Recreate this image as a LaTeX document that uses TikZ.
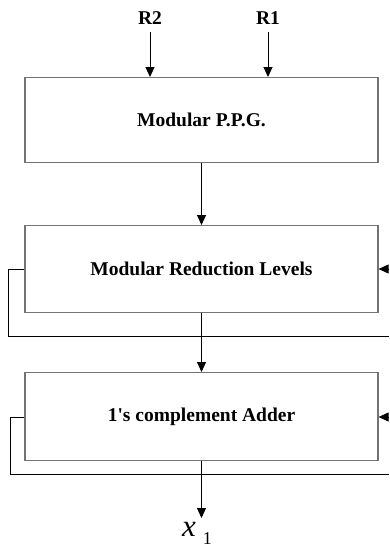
\documentclass[tikz,border=0pt]{standalone}
\usepackage{fontspec}
\setmainfont{Liberation Serif}
\usetikzlibrary{arrows.meta}
\begin{document}
\begin{tikzpicture}[x=1pt,y=-1pt,
  blk/.style={draw=black!55,line width=1.2pt,minimum width=353pt,anchor=north,
    inner sep=0pt,font=\fontsize{19.5}{22}\selectfont\bfseries},
  wire/.style={draw=black,line width=0.9pt},
  arr/.style={wire,-{Triangle[length=10pt,width=9pt]}},
  lbl/.style={font=\fontsize{19.5}{22}\selectfont\bfseries,inner sep=0pt}]
\useasboundingbox (0,0) rectangle (389,547);

% processing stages
\node[blk,minimum height=85pt] (ppg) at (201.5,77) {Modular P.P.G.};
\node[blk,minimum height=87pt] (red) at (201.5,225) {Modular Reduction Levels};
\node[blk,minimum height=88pt] (add) at (201.5,372) {1\textquotesingle s complement Adder};

% inputs
\node[lbl] (r2) at (150,18) {R2};
\node[lbl] (r1) at (268,18) {R1};
\coordinate (r2in) at (150,32);
\coordinate (r1in) at (268,32);
\draw[arr] (r2in) -- (r2in |- ppg.north);
\draw[arr] (r1in) -- (r1in |- ppg.north);

% main data path
\draw[arr] (ppg.south) -- (red.north);
\draw[arr] (red.south) -- (add.north);
\coordinate (outend) at (201.5,518);
\draw[arr] (add.south) -- (outend);
\node[inner sep=0pt] (x1) at (197,533)
  {\fontsize{31}{32}\selectfont\textit{x}\hspace{7pt}\raisebox{-8pt}{\fontsize{18}{20}\selectfont 1}};

% end-around carry loops
\coordinate (redL) at (8,269);
\coordinate (redB) at (8,336);
\coordinate (redR) at (389,336);
\coordinate (redIn) at (389,269);
\draw[wire] (red.west |- redL) -- (redL) -- (redB) -- (redR);
\draw[arr] (redIn) -- (red.east |- redIn);

\coordinate (addL) at (10,417);
\coordinate (addB) at (10,474);
\coordinate (addR) at (389,474);
\coordinate (addIn) at (389,417);
\draw[wire] (add.west |- addL) -- (addL) -- (addB) -- (addR);
\draw[arr] (addIn) -- (add.east |- addIn);
\end{tikzpicture}
\end{document}
